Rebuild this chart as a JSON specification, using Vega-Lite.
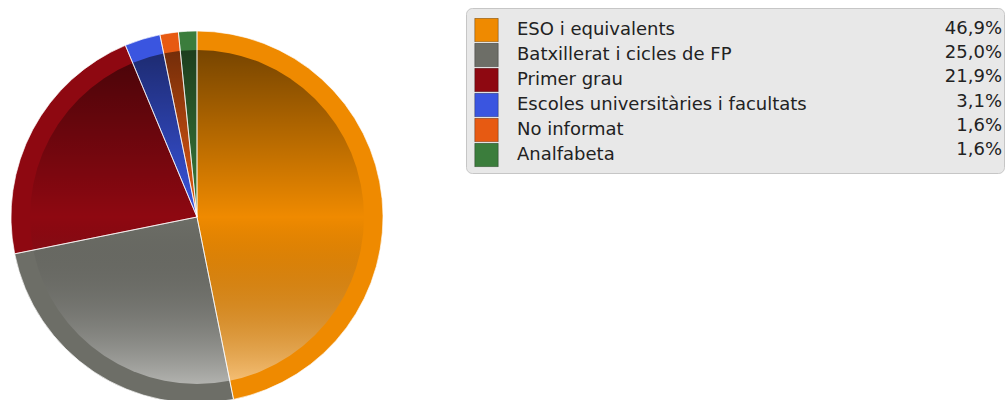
{
  "$schema": "https://vega.github.io/schema/vega-lite/v6.json",
  "padding": {"left": 0, "top": 7, "right": 0, "bottom": 0},
  "background": "white",
  "spacing": 71,
  "datasets": {
    "edu": [
      {"idx": 1, "category": "ESO i equivalents", "value": 46.9, "pct": "46,9%"},
      {"idx": 2, "category": "Batxillerat i cicles de FP", "value": 25.0, "pct": "25,0%"},
      {"idx": 3, "category": "Primer grau", "value": 21.9, "pct": "21,9%"},
      {"idx": 4, "category": "Escoles universitàries i facultats", "value": 3.1, "pct": "3,1%"},
      {"idx": 5, "category": "No informat", "value": 1.6, "pct": "1,6%"},
      {"idx": 6, "category": "Analfabeta", "value": 1.6, "pct": "1,6%"}
    ]
  },
  "config": {"view": {"stroke": null}},
  "hconcat": [
    {
      "width": 394,
      "height": 418,
      "data": {"name": "edu"},
      "layer": [
        {
          "mark": {"type": "arc", "outerRadius": 186},
          "encoding": {
            "theta": {"field": "value", "type": "quantitative", "stack": true},
            "order": {"field": "idx", "type": "quantitative"},
            "color": {
              "field": "category",
              "type": "nominal",
              "sort": ["ESO i equivalents", "Batxillerat i cicles de FP", "Primer grau", "Escoles universitàries i facultats", "No informat", "Analfabeta"],
              "scale": {
                "domain": ["ESO i equivalents", "Batxillerat i cicles de FP", "Primer grau", "Escoles universitàries i facultats", "No informat", "Analfabeta"],
                "range": ["#ef8a00", "#6d6e67", "#8e0811", "#3a55e0", "#e75a12", "#3b7d3c"]
              },
              "legend": {
                "orient": "none",
                "legendX": 474,
                "legendY": 10,
                "title": null,
                "padding": 0,
                "symbolType": "square",
                "symbolSize": 552,
                "symbolStrokeColor": "rgba(0,0,0,0.3)",
                "symbolStrokeWidth": 1,
                "symbolOpacity": 1,
                "clipHeight": 24.2,
                "rowPadding": 0,
                "labelOffset": 18,
                "labelFont": "DejaVu Sans",
                "labelFontSize": 18,
                "labelColor": "#222222",
                "labelLimit": 400
              }
            }
          }
        },
        {
          "mark": {
            "type": "arc",
            "outerRadius": 167,
            "fill": {
              "gradient": "linear",
              "x1": 0, "y1": 0, "x2": 0, "y2": 1,
              "stops": [
                {"offset": 0, "color": "rgba(0,0,0,0.5)"},
                {"offset": 0.5, "color": "rgba(0,0,0,0)"},
                {"offset": 1, "color": "rgba(255,255,255,0.47)"}
              ]
            }
          },
          "encoding": {
            "theta": {"aggregate": "sum", "field": "value", "type": "quantitative"}
          }
        },
        {
          "mark": {"type": "arc", "outerRadius": 186, "filled": false, "stroke": "#ffffff", "strokeOpacity": 0.65, "strokeWidth": 1},
          "encoding": {
            "theta": {"field": "value", "type": "quantitative", "stack": true},
            "order": {"field": "idx", "type": "quantitative"}
          }
        }
      ]
    },
    {
      "width": 538,
      "height": 165,
      "view": {"fill": "#e8e8e8", "stroke": "#c6c6c6", "strokeWidth": 1, "cornerRadius": 6},
      "data": {"name": "edu"},
      "mark": {"type": "text", "align": "right", "baseline": "middle", "dx": -2, "dy": -1, "font": "DejaVu Sans", "fontSize": 18, "color": "#222222"},
      "encoding": {
        "y": {
          "field": "category",
          "type": "nominal",
          "sort": ["ESO i equivalents", "Batxillerat i cicles de FP", "Primer grau", "Escoles universitàries i facultats", "No informat", "Analfabeta"],
          "axis": null,
          "scale": {"type": "point", "padding": 0.91}
        },
        "x": {"value": "width"},
        "text": {"field": "pct", "type": "nominal"}
      }
    }
  ]
}
